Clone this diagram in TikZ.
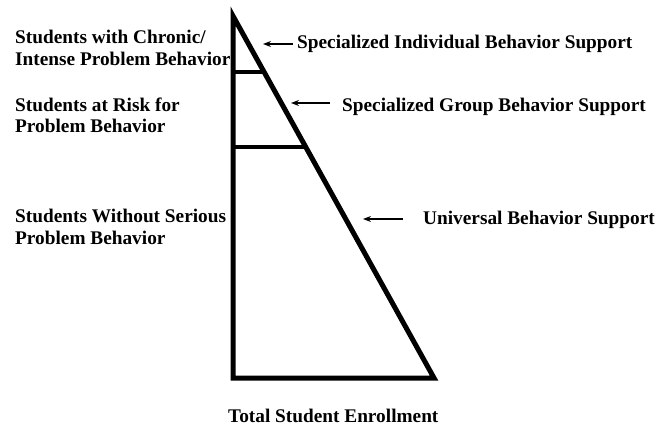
\documentclass[tikz,border=0pt]{standalone}
\usepackage{fontspec}
\setmainfont{Liberation Serif}
\usetikzlibrary{arrows.meta,calc}
\begin{document}
\begin{tikzpicture}[x=1pt,y=-1pt,
  lbl/.style={anchor=base west,inner sep=0pt,font=\fontsize{19.3}{22}\selectfont\bfseries},
  tri/.style={line width=5pt,line join=miter,miter limit=20},
  tier/.style={line width=4.5pt},
  arr/.style={line width=1.2pt,-{Stealth[length=8pt,width=6pt]}}]
\useasboundingbox[fill=white] (0,0) rectangle (668,427);
% triangle
\coordinate (apex) at (233,16);
\coordinate (bl) at (233,378);
\coordinate (br) at (434,378);
\draw[tri] (apex) -- (bl) -- (br) -- cycle;
\coordinate (h1) at ($(apex)!56/362!(br)$);
\coordinate (h2) at ($(apex)!131/362!(br)$);
\draw[tier] (apex |- h1) -- (h1);
\draw[tier] (apex |- h2) -- (h2);
% left labels
\node[lbl] (l1a) at (15,44) {Students with Chronic/};
\node[lbl] (l1b) at (15,66) {Intense Problem Behavior};
\node[lbl] (l2a) at (15,112) {Students at Risk for};
\node[lbl] (l2b) at (15,133) {Problem Behavior};
\node[lbl] (l3a) at (15,223) {Students Without Serious};
\node[lbl] (l3b) at (15,244) {Problem Behavior};
% right labels
\node[lbl] (t1) at (297,49) {Specialized Individual Behavior Support};
\node[lbl] (t2) at (342,112) {Specialized Group Behavior Support};
\node[lbl] (t3) at (423,225) {Universal Behavior Support};
\coordinate (a1) at (263,44);
\coordinate (a2) at (291,103);
\coordinate (a3) at (363,219);
\draw[arr] ($(t1.west |- a1)+(-4,0)$) -- (a1);
\draw[arr] ($(t2.west |- a2)+(-12,0)$) -- (a2);
\draw[arr] ($(t3.west |- a3)+(-20,0)$) -- (a3);
% bottom label
\node[lbl] (tot) at (228,422) {Total Student Enrollment};
\end{tikzpicture}
\end{document}
